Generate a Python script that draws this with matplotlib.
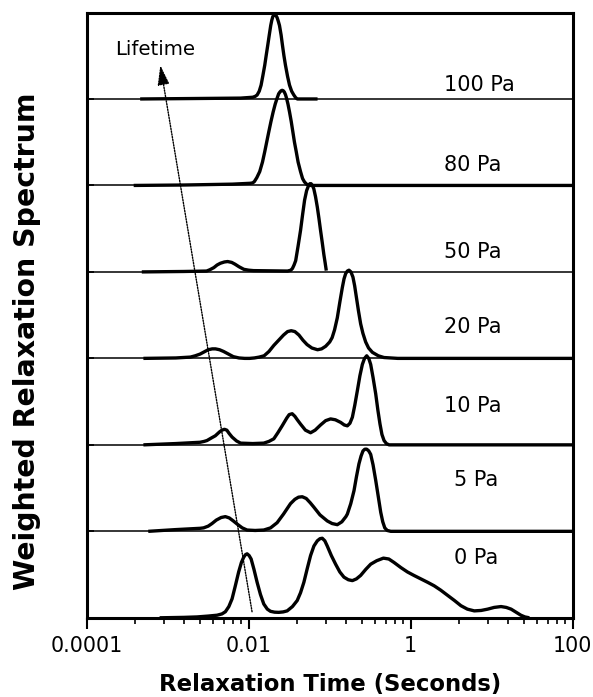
import numpy as np
import matplotlib
matplotlib.use("Agg")
import matplotlib.pyplot as plt
from matplotlib.ticker import FixedLocator, FixedFormatter, NullFormatter

# ---------------- data (log10 of relaxation time, weighted spectrum) ----------------
stress_labels = ["100 Pa", "80 Pa", "50 Pa", "20 Pa", "10 Pa", "5 Pa", "0 Pa"]

logt_100 = [-3.34, -2.70, -2.10, -1.95, -1.92, -1.896, -1.87, -1.847, -1.825, -1.802,
            -1.783, -1.765, -1.746, -1.728, -1.715, -1.703, -1.692, -1.682, -1.67, -1.66,
            -1.649, -1.635, -1.620, -1.60, -1.583, -1.565, -1.546, -1.52, -1.496, -1.47,
            -1.443, -1.42, -1.40, -1.15]
spec_100 = [0.0, 0.005, 0.01, 0.02, 0.03, 0.046, 0.09, 0.16, 0.27, 0.39,
            0.51, 0.62, 0.74, 0.85, 0.91, 0.95, 0.97, 0.975, 0.97, 0.96,
            0.94, 0.90, 0.85, 0.74, 0.62, 0.50, 0.39, 0.26, 0.16, 0.09,
            0.046, 0.015, 0.0, 0.0]

logt_80 = [-3.42, -2.80, -2.20, -1.98, -1.95, -1.93, -1.90, -1.864, -1.83, -1.802,
           -1.776, -1.752, -1.725, -1.698, -1.673, -1.649, -1.63, -1.615, -1.60, -1.587,
           -1.573, -1.560, -1.546, -1.533, -1.515, -1.496, -1.475, -1.455, -1.435, -1.413,
           -1.39, -1.36, -1.335, -1.311, -1.28, -1.236, 2.0]
spec_80 = [0.0, 0.005, 0.015, 0.025, 0.03, 0.045, 0.09, 0.16, 0.27, 0.39,
           0.51, 0.62, 0.74, 0.85, 0.94, 1.01, 1.06, 1.08, 1.095, 1.10,
           1.095, 1.08, 1.05, 1.01, 0.94, 0.85, 0.74, 0.62, 0.50, 0.39,
           0.27, 0.16, 0.08, 0.04, 0.01, 0.0, 0.0]

logt_50 = [-3.32, -2.80, -2.52, -2.48, -2.43, -2.39, -2.35, -2.30, -2.26, -2.21,
           -2.17, -2.12, -2.06, -2.00, -1.94, -1.52, -1.48, -1.46, -1.44, -1.42,
           -1.39, -1.36, -1.335, -1.31, -1.285, -1.26, -1.245, -1.23, -1.213, -1.196,
           -1.175, -1.153, -1.133, -1.113, -1.092, -1.072, -1.057, -1.042]
spec_50 = [0.0, 0.005, 0.01, 0.025, 0.05, 0.08, 0.10, 0.115, 0.12, 0.11,
           0.09, 0.06, 0.03, 0.02, 0.015, 0.01, 0.02, 0.04, 0.08, 0.13,
           0.30, 0.48, 0.66, 0.83, 0.94, 1.0, 1.02, 1.02, 1.0, 0.96,
           0.87, 0.75, 0.62, 0.48, 0.34, 0.20, 0.11, 0.015]

logt_20 = [-3.30, -2.90, -2.72, -2.66, -2.60, -2.55, -2.50, -2.45, -2.41, -2.36,
           -2.31, -2.25, -2.19, -2.12, -2.05, -1.99, -1.93, -1.87, -1.81, -1.75,
           -1.69, -1.63, -1.57, -1.52, -1.475, -1.43, -1.38, -1.33, -1.28, -1.22,
           -1.15, -1.10, -1.05, -1.00, -0.97, -0.94, -0.906, -0.875, -0.844, -0.823,
           -0.803, -0.782, -0.762, -0.738, -0.713, -0.692, -0.671, -0.645, -0.618, -0.59,
           -0.556, -0.52, -0.473, -0.40, -0.33, -0.16, 2.0]
spec_20 = [0.0, 0.005, 0.015, 0.03, 0.05, 0.075, 0.10, 0.11, 0.11, 0.10,
           0.08, 0.05, 0.02, 0.005, 0.0, 0.0, 0.005, 0.015, 0.03, 0.08,
           0.15, 0.21, 0.27, 0.31, 0.32, 0.31, 0.27, 0.21, 0.16, 0.12,
           0.10, 0.11, 0.14, 0.19, 0.24, 0.33, 0.47, 0.65, 0.82, 0.92,
           0.98, 1.01, 1.02, 1.0, 0.94, 0.84, 0.71, 0.55, 0.40, 0.29,
           0.19, 0.12, 0.07, 0.03, 0.01, 0.0, 0.0]

logt_10 = [-3.30, -2.90, -2.60, -2.55, -2.515, -2.46, -2.412, -2.36, -2.33, -2.30,
           -2.27, -2.24, -2.205, -2.15, -2.10, -1.95, -1.814, -1.75, -1.69, -1.64,
           -1.587, -1.53, -1.50, -1.463, -1.43, -1.40, -1.36, -1.30, -1.236, -1.18,
           -1.113, -1.05, -0.989, -0.93, -0.865, -0.82, -0.782, -0.75, -0.72, -0.69,
           -0.658, -0.627, -0.597, -0.57, -0.543, -0.518, -0.494, -0.465, -0.432, -0.405,
           -0.379, -0.355, -0.329, -0.30, -0.267, 2.0]
spec_10 = [0.0, 0.015, 0.03, 0.04, 0.05, 0.08, 0.105, 0.15, 0.17, 0.18,
           0.17, 0.13, 0.09, 0.045, 0.02, 0.015, 0.02, 0.04, 0.07, 0.14,
           0.22, 0.31, 0.35, 0.36, 0.33, 0.29, 0.24, 0.17, 0.14, 0.17,
           0.23, 0.28, 0.30, 0.29, 0.26, 0.23, 0.22, 0.25, 0.32, 0.46,
           0.63, 0.80, 0.93, 1.0, 1.03, 1.0, 0.93, 0.78, 0.59, 0.40,
           0.24, 0.12, 0.05, 0.015, 0.0, 0.0]

logt_5 = [-3.24, -2.90, -2.60, -2.557, -2.50, -2.453, -2.40, -2.34, -2.288, -2.24,
          -2.19, -2.144, -2.08, -2.02, -1.92, -1.814, -1.73, -1.649, -1.57, -1.52,
          -1.484, -1.43, -1.385, -1.339, -1.29, -1.24, -1.196, -1.12, -1.03, -0.97,
          -0.906, -0.85, -0.80, -0.782, -0.74, -0.70, -0.67, -0.639, -0.613, -0.589,
          -0.566, -0.543, -0.518, -0.494, -0.465, -0.432, -0.40, -0.37, -0.345, -0.32,
          -0.29, -0.246, 2.0]
spec_5 = [0.0, 0.02, 0.035, 0.04, 0.06, 0.09, 0.13, 0.16, 0.17, 0.155,
          0.12, 0.085, 0.04, 0.015, 0.01, 0.015, 0.04, 0.10, 0.20, 0.27,
          0.32, 0.37, 0.395, 0.40, 0.38, 0.33, 0.28, 0.19, 0.12, 0.09,
          0.077, 0.11, 0.17, 0.20, 0.32, 0.47, 0.63, 0.78, 0.87, 0.93,
          0.95, 0.95, 0.93, 0.89, 0.77, 0.59, 0.40, 0.22, 0.11, 0.04,
          0.01, 0.0, 0.0]

logt_0 = [-3.10, -2.80, -2.639, -2.50, -2.39, -2.33, -2.288, -2.245, -2.205, -2.165,
          -2.124, -2.09, -2.062, -2.04, -2.02, -1.995, -1.97, -1.935, -1.896, -1.855,
          -1.814, -1.77, -1.731, -1.68, -1.629, -1.575, -1.525, -1.46, -1.401, -1.36,
          -1.319, -1.277, -1.236, -1.195, -1.153, -1.12, -1.092, -1.06, -1.03, -0.98,
          -0.927, -0.875, -0.824, -0.77, -0.72, -0.67, -0.618, -0.555, -0.494, -0.42,
          -0.337, -0.27, -0.206, -0.12, -0.04, 0.04, 0.125, 0.21, 0.29, 0.37,
          0.455, 0.54, 0.62, 0.70, 0.785, 0.87, 0.95, 1.03, 1.115, 1.18,
          1.24, 1.30, 1.36, 1.41, 1.465]
spec_0 = [0.0, 0.005, 0.01, 0.02, 0.03, 0.045, 0.07, 0.13, 0.22, 0.37,
          0.53, 0.64, 0.70, 0.73, 0.74, 0.72, 0.68, 0.56, 0.41, 0.27,
          0.16, 0.10, 0.075, 0.065, 0.063, 0.068, 0.08, 0.13, 0.20, 0.29,
          0.41, 0.57, 0.72, 0.83, 0.89, 0.915, 0.92, 0.89, 0.83, 0.72,
          0.62, 0.53, 0.47, 0.44, 0.43, 0.45, 0.49, 0.56, 0.62, 0.66,
          0.69, 0.68, 0.64, 0.58, 0.53, 0.49, 0.45, 0.41, 0.37, 0.32,
          0.26, 0.20, 0.14, 0.10, 0.08, 0.085, 0.10, 0.12, 0.13, 0.12,
          0.10, 0.065, 0.03, 0.01, 0.0]

major_ticks = [1e-4, 1e-2, 1, 100]
major_tick_labels = ["0.0001", "0.01", "1", "100"]

# Lifetime arrow (time, panel units)
arrow_start = (0.0110, 0.07)
arrow_end = (0.00081, 6.39)

curves = [(logt_100, spec_100), (logt_80, spec_80), (logt_50, spec_50),
          (logt_20, spec_20), (logt_10, spec_10), (logt_5, spec_5), (logt_0, spec_0)]

# ---------------- figure ----------------
W, H = 593, 697
fig = plt.figure(figsize=(W / 100, H / 100), dpi=100)
left, right, top, bottom = 86.7, 572.7, 12.5, 617.8
ax = fig.add_axes([left / W, 1 - bottom / H, (right - left) / W, (bottom - top) / H])

n = len(curves)
for i, (lt, sp) in enumerate(curves):
    base = n - 1 - i
    if base > 0:
        ax.axhline(base, color="black", lw=1.1, zorder=2)
    ax.plot(10 ** np.array(lt), base + np.array(sp), color="black", lw=2.4,
            solid_joinstyle="round", solid_capstyle="butt", zorder=3, clip_on=False)

# panel labels (x start, baseline y)
label_pos = [(2.57, 6.09), (2.57, 5.17), (2.57, 4.16), (2.57, 3.29),
             (2.57, 2.38), (3.41, 1.52), (3.41, 0.62)]
for txt, (lx, ly) in zip(stress_labels, label_pos):
    ax.text(lx, ly, txt, fontsize=15, ha="left", va="baseline", family="DejaVu Sans")

# lifetime arrow
ax.annotate("", xy=arrow_end, xytext=arrow_start,
            arrowprops=dict(arrowstyle="-|>,head_length=1.2,head_width=0.36",
                            linestyle=(0, (1.0, 1.0)), lw=1.0, color="black",
                            shrinkA=0, shrinkB=0, mutation_scale=10))
ax.text(2.24e-4, 6.51, "Lifetime", fontsize=14.2, ha="left", va="baseline", family="DejaVu Sans")

ax.set_xscale("log")
ax.set_xlim(1e-4, 100)
ax.set_ylim(0, 7)

ax.xaxis.set_major_locator(FixedLocator(major_ticks))
ax.xaxis.set_major_formatter(FixedFormatter(major_tick_labels))
minor = [m * k ** 2 for m in major_ticks[:-1] for k in range(2, 10)]
ax.xaxis.set_minor_locator(FixedLocator(minor))
ax.xaxis.set_minor_formatter(NullFormatter())
ax.tick_params(axis="x", which="major", direction="out", length=8, width=1.5,
               labelsize=14.8, pad=5)
ax.tick_params(axis="x", which="minor", direction="out", length=4, width=1.2)
ax.set_yticks(range(1, 7))
ax.set_yticklabels([])
ax.tick_params(axis="y", which="major", direction="in", length=5, width=1.2)
ax.tick_params(axis="y", which="minor", left=False)
for s in ax.spines.values():
    s.set_linewidth(2.2)

fig.text(330 / W, 1 - 691 / H, "Relaxation Time (Seconds)", fontsize=16.4,
         fontweight="bold", ha="center", va="baseline", family="DejaVu Sans")
fig.text(27 / W, 1 - 341.5 / H, "Weighted Relaxation Spectrum", fontsize=20.4,
         fontweight="bold", ha="center", va="center", rotation=90, family="DejaVu Sans")

fig.savefig("out.png", dpi=100)
